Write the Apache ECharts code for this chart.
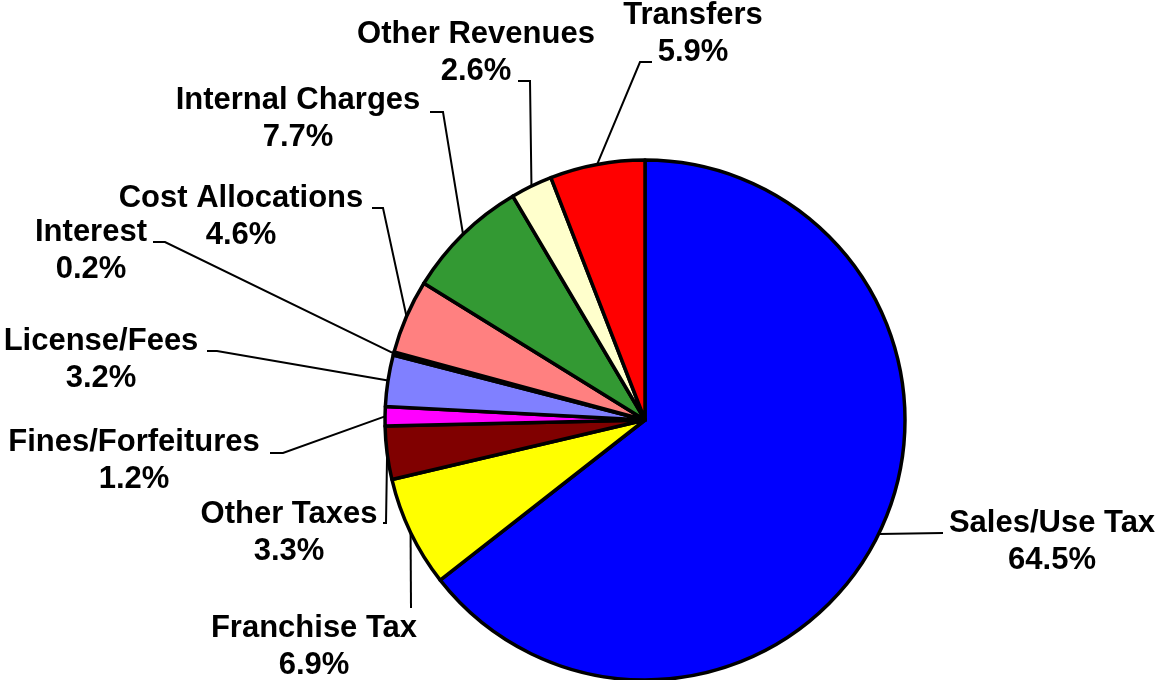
<!DOCTYPE html>
<html>
<head>
<meta charset="utf-8">
<script src="https://cdn.jsdelivr.net/npm/echarts@6/dist/echarts.min.js"></script>
<style>
  html, body { margin: 0; padding: 0; background: #ffffff; }
  #chart { width: 1158px; height: 680px; }
</style>
</head>
<body>
<div id="chart"></div>
<script>
// ---- data ----
const categories = ['Sales/Use Tax', 'Franchise Tax', 'Other Taxes', 'Fines/Forfeitures', 'License/Fees',
  'Interest', 'Cost Allocations', 'Internal Charges', 'Other Revenues', 'Transfers'];
const shares = [64.5, 6.9, 3.3, 1.2, 3.2, 0.2, 4.6, 7.7, 2.6, 5.9];

// ---- styles / layout (not data) ----
const sliceColors = ['#0000FF', '#FFFF00', '#800000', '#FF00FF', '#8080FF',
  '#000080', '#FF8080', '#339933', '#FFFFCC', '#FF0000'];
// centre of each two-line label block
const labelAnchors = [
  [1052, 542], [314, 647], [289, 533], [134, 461], [101, 360],
  [91, 251], [241, 217], [298, 119], [476, 53], [693, 34]
];
// leader-line points after the slice edge point
const leaderPoints = [
  [[943, 533]],
  [[411, 608]],
  [[386, 523], [383, 523]],
  [[283, 453], [270, 453]],
  [[217, 351], [207, 351]],
  [[165, 242], [153, 242]],
  [[383, 208], [372, 208]],
  [[443, 112], [430, 112]],
  [[530, 81], [518, 81]],
  [[640, 62], [652, 62]]
];

const chart = echarts.init(document.getElementById('chart'), null, { renderer: 'canvas' });
chart.setOption({
  animation: false,
  backgroundColor: '#ffffff',
  series: [{
    type: 'pie',
    center: [645, 420],
    radius: 260,
    startAngle: 90,
    clockwise: true,
    avoidLabelOverlap: false,
    data: categories.map((c, i) => ({ name: c, value: shares[i], itemStyle: { color: sliceColors[i] } })),
    itemStyle: { borderColor: '#000000', borderWidth: 3.5 },
    label: {
      show: true,
      position: 'outside',
      formatter: p => p.name + '\n' + p.value.toFixed(1) + '%',
      fontFamily: 'Arial, "Liberation Sans", sans-serif',
      fontWeight: 'bold',
      fontSize: 31,
      lineHeight: 37,
      color: '#000000',
      align: 'center'
    },
    labelLine: {
      show: true,
      length: 10,
      length2: 10,
      lineStyle: { color: '#000000', width: 2 }
    },
    labelLayout: function (p) {
      const i = p.dataIndex;
      const start = p.labelLinePoints ? p.labelLinePoints[0] : null;
      const res = {
        x: labelAnchors[i][0],
        y: labelAnchors[i][1],
        align: 'center',
        verticalAlign: 'middle'
      };
      if (start) res.labelLinePoints = [start].concat(leaderPoints[i]);
      return res;
    },
    emphasis: { disabled: true }
  }]
});
</script>
</body>
</html>
